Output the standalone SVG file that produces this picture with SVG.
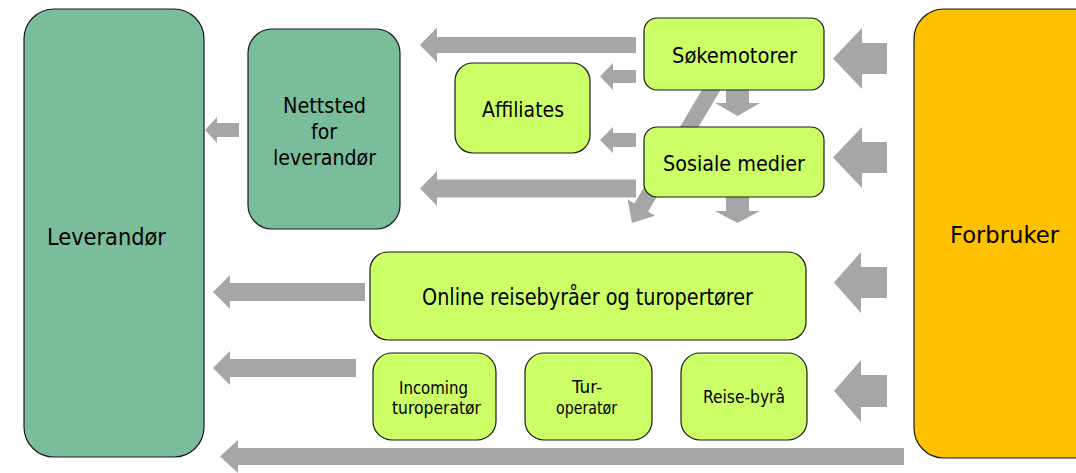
<svg xmlns="http://www.w3.org/2000/svg" width="1076" height="473" viewBox="0 0 1076 473">
<style>
.bg{fill:#ffffff}
.arrow{fill:#a6a6a6;stroke:none}
.box{stroke:#1a1a1a;stroke-width:1.2}
.lime{fill:#ccff66}
.teal{fill:#7abd9b}
.orange{fill:#ffc000}
text{font-family:"DejaVu Sans Condensed","DejaVu Sans",sans-serif;fill:#000000;text-anchor:middle}
.t23{font-size:23px}
.t21{font-size:21px}
.t18{font-size:17px}
</style>
<rect class="bg" x="0" y="0" width="1076" height="473"/>
<g id="connectors">
<polygon class="arrow" points="420,45 437,27.5 437,37 636,37 636,53 437,53 437,62.5"/>
<polygon class="arrow" points="420,188.5 437,171 437,179.5 636,179.5 636,197.5 437,197.5 437,206"/>
<polygon class="arrow" points="600,76.5 613,63 613,70 636,70 636,83 613,83 613,90"/>
<polygon class="arrow" points="600,140 613,127 613,133 636,133 636,147 613,147 613,153"/>
<polygon class="arrow" points="205,130 217,117 217,123 239,123 239,137 217,137 217,143"/>
<polygon class="arrow" points="213,292 230,275 230,283 365,283 365,301 230,301 230,309"/>
<polygon class="arrow" points="213,368 230,351 230,359 356,359 356,377 230,377 230,385"/>
<polygon class="arrow" points="220,456.5 238,440 238,448 904,448 904,465 238,465 238,473"/>
<polygon class="arrow" points="833,58.5 862,28 862,43 887,43 887,74 862,74 862,89"/>
<polygon class="arrow" points="833,157.5 862,127 862,142 887,142 887,173 862,173 862,188"/>
<polygon class="arrow" points="834,282.5 861,252 861,267 887,267 887,298 861,298 861,313"/>
<polygon class="arrow" points="834,391 861,360 861,375 887,375 887,407 861,407 861,422"/>
<polygon class="arrow" points="726,89 749,89 749,103 760,103 737.5,116 715,103 726,103"/>
<polygon class="arrow" points="726,196 749,196 749,211 760,211 737.5,223 715,211 726,211"/>
<polygon class="arrow" points="632,223 654.9,215.7 648.1,211.6 722.9,86.1 709.1,77.9 634.3,203.4 627.5,199.3"/>
</g>
<g id="leverandor">
<rect class="box teal" x="24" y="9" width="180" height="448" rx="30" ry="30"/>
<text class="t23" x="106.5" y="245" textLength="119" lengthAdjust="spacingAndGlyphs">Leverandør</text>
</g>
<g id="forbruker">
<rect class="box orange" x="914" y="9" width="200" height="449" rx="30" ry="30"/>
<text class="t23" x="1004.5" y="243" textLength="109" lengthAdjust="spacingAndGlyphs">Forbruker</text>
</g>
<g id="nettsted">
<rect class="box teal" x="248" y="29" width="152" height="200" rx="24" ry="24"/>
<text class="t21" x="324.5" y="113" textLength="83" lengthAdjust="spacingAndGlyphs">Nettsted</text>
<text class="t21" x="324" y="139" textLength="26" lengthAdjust="spacingAndGlyphs">for</text>
<text class="t21" x="324.5" y="165" textLength="103" lengthAdjust="spacingAndGlyphs">leverandør</text>
</g>
<g id="sokemotorer">
<rect class="box lime" x="644" y="18" width="180" height="72" rx="13" ry="13"/>
<text class="t21" x="734.5" y="63" textLength="125" lengthAdjust="spacingAndGlyphs">Søkemotorer</text>
</g>
<g id="affiliates">
<rect class="box lime" x="455" y="63" width="135" height="90" rx="18" ry="18"/>
<text class="t21" x="523" y="117" textLength="82" lengthAdjust="spacingAndGlyphs">Affiliates</text>
</g>
<g id="sosiale">
<rect class="box lime" x="644" y="127" width="180" height="70" rx="13" ry="13"/>
<text class="t21" x="734" y="171" textLength="142" lengthAdjust="spacingAndGlyphs">Sosiale medier</text>
</g>
<g id="online">
<rect class="box lime" x="370" y="252" width="436" height="88" rx="18" ry="18"/>
<text class="t23" x="587.5" y="305" textLength="331" lengthAdjust="spacingAndGlyphs">Online reisebyråer og turopertører</text>
</g>
<g id="incoming">
<rect class="box lime" x="373" y="353" width="123" height="87" rx="19" ry="19"/>
<text class="t18" x="433.5" y="394" textLength="69" lengthAdjust="spacingAndGlyphs">Incoming</text>
<text class="t18" x="436.5" y="414" textLength="89" lengthAdjust="spacingAndGlyphs">turoperatør</text>
</g>
<g id="turoperator">
<rect class="box lime" x="525" y="353" width="127" height="87" rx="19" ry="19"/>
<text class="t18" x="587" y="393" textLength="30" lengthAdjust="spacingAndGlyphs">Tur-</text>
<text class="t18" x="586.5" y="414" textLength="61" lengthAdjust="spacingAndGlyphs">operatør</text>
</g>
<g id="reisebyra">
<rect class="box lime" x="681" y="353" width="126" height="87" rx="19" ry="19"/>
<text class="t18" x="744" y="403" textLength="82" lengthAdjust="spacingAndGlyphs">Reise-byrå</text>
</g>
</svg>
